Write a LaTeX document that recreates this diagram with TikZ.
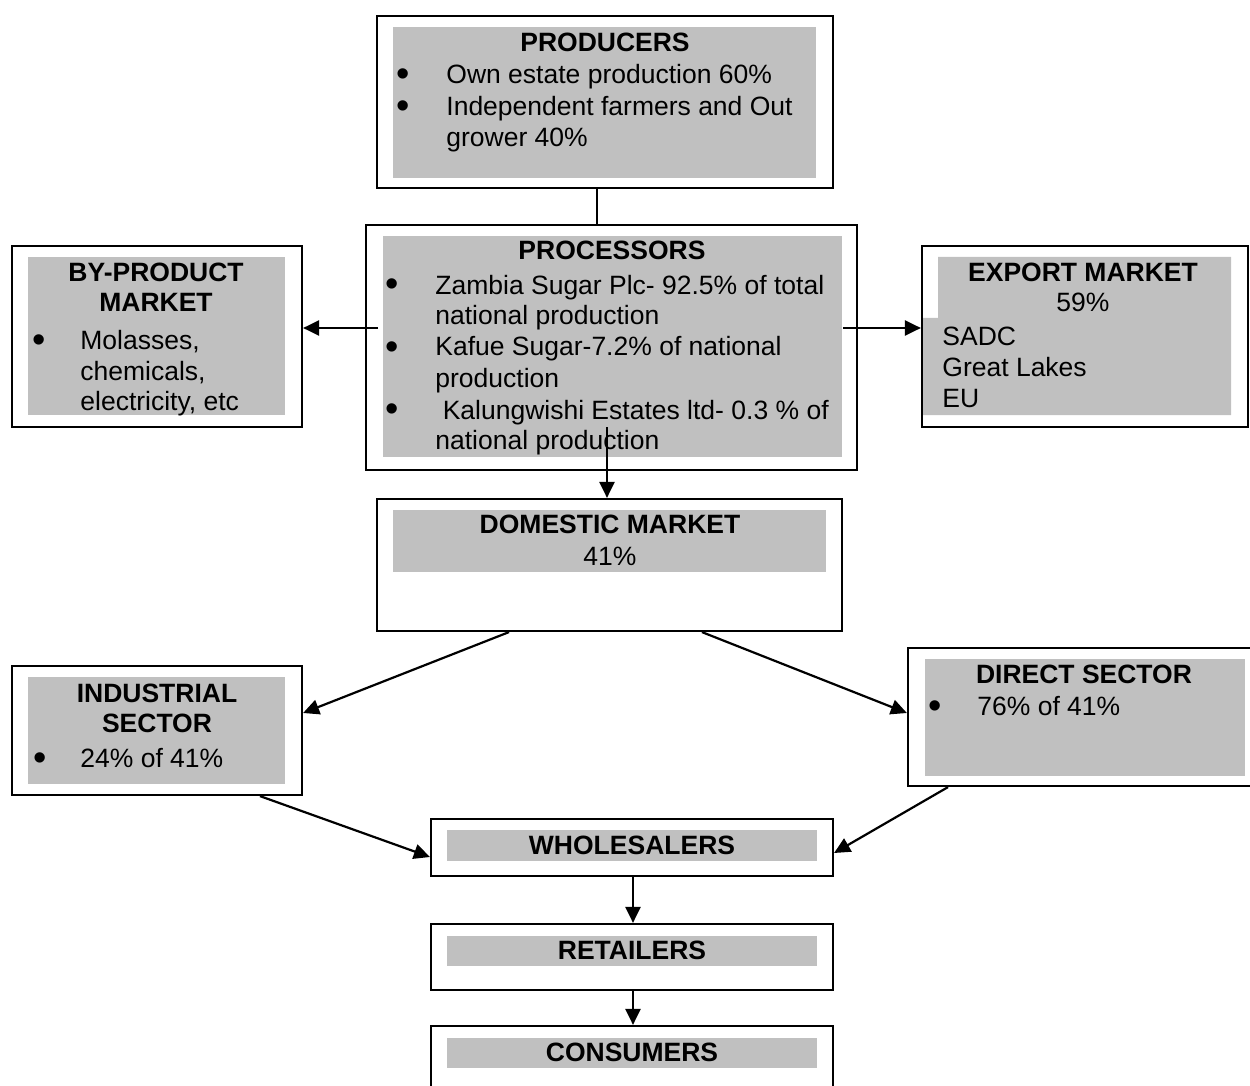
\documentclass[tikz,border=0pt]{standalone}
\usepackage{fontspec}
\setmainfont{Liberation Sans}
\usetikzlibrary{arrows.meta,fit,calc}
\definecolor{boxgray}{RGB}{192,192,192}
\begin{document}
\begin{tikzpicture}[x=0.5pt,y=-0.5pt,
  outerbox/.style={draw=black, line width=1.1pt, inner sep=0pt},
  graybox/.style={fill=boxgray, draw=none, inner sep=0pt},
  txt/.style={anchor=base west, inner sep=0pt, font=\fontsize{13.25}{15.75}\selectfont},
  ttl/.style={anchor=base, inner sep=0pt, font=\fontsize{13.25}{15.75}\selectfont\bfseries},
  ctr/.style={anchor=base, inner sep=0pt, font=\fontsize{13.25}{15.75}\selectfont},
  bul/.style={anchor=base, inner sep=0pt, yshift=-1.5pt, text height=6pt, text depth=0pt, font=\fontsize{19}{20}\selectfont},
  arr/.style={line width=1.1pt, -{Triangle[length=8pt,width=7.5pt]}},
  conn/.style={line width=1.1pt}]
\useasboundingbox (0,0) rectangle (1250,1086);
\clip (0,0) rectangle (1250,1086);
\fill[white] (0,0) rectangle (1250,1086);

% PRODUCERS
\node[outerbox, fit={(377,16)(833,188)}] (prod) {};
\node[graybox, fit={(393,27)(816,178)}] (prodg) {};
\node[ttl] (prodt) at (605,52) {PRODUCERS};
\node[bul] (prodb1) at (403,84) {\textbullet};
\node[txt] (prod1) at (446,84) {Own estate production 60\%};
\node[bul] (prodb2) at (403,116) {\textbullet};
\node[txt] (prod2) at (446,116) {Independent farmers and Out};
\node[txt] (prod3) at (446,147) {grower 40\%};

% PROCESSORS
\node[outerbox, fit={(366,225)(857,470)}] (proc) {};
\node[graybox, fit={(383,236)(842,457)}] (procg) {};
\node[ttl] (proct) at (612,260) {PROCESSORS};
\node[bul] (procb1) at (392,294) {\textbullet};
\node[txt] (proc1) at (435,294) {Zambia Sugar Plc- 92.5\% of total};
\node[txt] (proc2) at (435,325) {national production};
\node[bul] (procb2) at (392,356) {\textbullet};
\node[txt] (proc3) at (435,356) {Kafue Sugar-7.2\% of national};
\node[txt] (proc4) at (435,387) {production};
\node[bul] (procb3) at (392,419) {\textbullet};
\node[txt] (proc5) at (435,419) {\ Kalungwishi Estates ltd- 0.3 \% of};
\node[txt] (proc6) at (435,450) {national production};

% BY-PRODUCT MARKET
\node[outerbox, fit={(12,246)(302,427)}] (byp) {};
\node[graybox, fit={(28,257)(285,415)}] (bypg) {};
\node[ttl] (bypt1) at (156,282) {BY-PRODUCT};
\node[ttl] (bypt2) at (156,312) {MARKET};
\node[bul] (bypb) at (39,350) {\textbullet};
\node[txt] (byp1) at (80,350) {Molasses,};
\node[txt] (byp2) at (80,380) {chemicals,};
\node[txt] (byp3) at (80,410) {electricity, etc};

% EXPORT MARKET
\node[outerbox, fit={(922,246)(1248,427)}] (exp) {};
\fill[boxgray] (938,257) -- (1231,257) -- (1231,415) -- (923,415) -- (923,318) -- (938,318) -- cycle;
\node[ttl] (expt) at (1083,282) {EXPORT MARKET};
\node[ctr] (expp) at (1083,312) {59\%};
\node[txt] (exp1) at (942,345) {SADC};
\node[txt] (exp2) at (942,377) {Great Lakes};
\node[txt] (exp3) at (942,408) {EU};

% DOMESTIC MARKET
\node[outerbox, fit={(377,499)(842,631)}] (dom) {};
\node[graybox, fit={(393,510)(826,572)}] (domg) {};
\node[ttl] (domt) at (610,533) {DOMESTIC MARKET};
\node[ctr] (domp) at (610,565) {41\%};

% INDUSTRIAL SECTOR
\node[outerbox, fit={(12,666)(302,795)}] (ind) {};
\node[graybox, fit={(28,677)(285,784)}] (indg) {};
\node[ttl] (indt1) at (157,702) {INDUSTRIAL};
\node[ttl] (indt2) at (157,732) {SECTOR};
\node[bul] (indb) at (40,767) {\textbullet};
\node[txt] (ind1) at (80,767) {24\% of 41\%};

% DIRECT SECTOR
\node[outerbox, fit={(908,648)(1262,786)}] (dir) {};
\node[graybox, fit={(925,659)(1245,776)}] (dirg) {};
\node[ttl] (dirt) at (1084,683) {DIRECT SECTOR};
\node[bul] (dirb) at (935,715) {\textbullet};
\node[txt] (dir1) at (977,715) {76\% of 41\%};

% WHOLESALERS / RETAILERS / CONSUMERS
\node[outerbox, fit={(431,819)(833,876)}] (whs) {};
\node[graybox, fit={(447,830)(817,861)}] (whsg) {};
\node[ttl] (whst) at (632,854) {WHOLESALERS};
\node[outerbox, fit={(431,924)(833,990)}] (ret) {};
\node[graybox, fit={(447,936)(817,966)}] (retg) {};
\node[ttl] (rett) at (632,959) {RETAILERS};
\node[outerbox, fit={(431,1026)(833,1110)}] (con) {};
\node[graybox, fit={(447,1038)(817,1068)}] (cong) {};
\node[ttl] (cont) at (632,1061) {CONSUMERS};

% connectors
\coordinate (c1) at (597,0);
\draw[conn] (prod.south -| c1) -- (proc.north -| c1);
\coordinate (c2) at (607,427);
\draw[arr] (c2) -- (dom.north -| c2);
\coordinate (c3) at (378,328);
\draw[arr] (c3) -- (byp.east |- c3);
\coordinate (c4) at (843,328);
\draw[arr] (c4) -- (exp.west |- c4);
\coordinate (c5) at (509,0);
\coordinate (t5) at (0,713);
\draw[arr] (dom.south -| c5) -- (ind.east |- t5);
\coordinate (c6) at (702,0);
\draw[arr] (dom.south -| c6) -- (dir.west |- t5);
\coordinate (c7) at (260,0);
\coordinate (t7) at (0,857);
\draw[arr] (ind.south -| c7) -- (whs.west |- t7);
\coordinate (c8) at (948,0);
\coordinate (t8) at (0,853);
\draw[arr] (dir.south -| c8) -- (whs.east |- t8);
\coordinate (c9) at (633,0);
\draw[arr] (whs.south -| c9) -- (ret.north -| c9);
\draw[arr] (ret.south -| c9) -- (con.north -| c9);
\end{tikzpicture}
\end{document}
